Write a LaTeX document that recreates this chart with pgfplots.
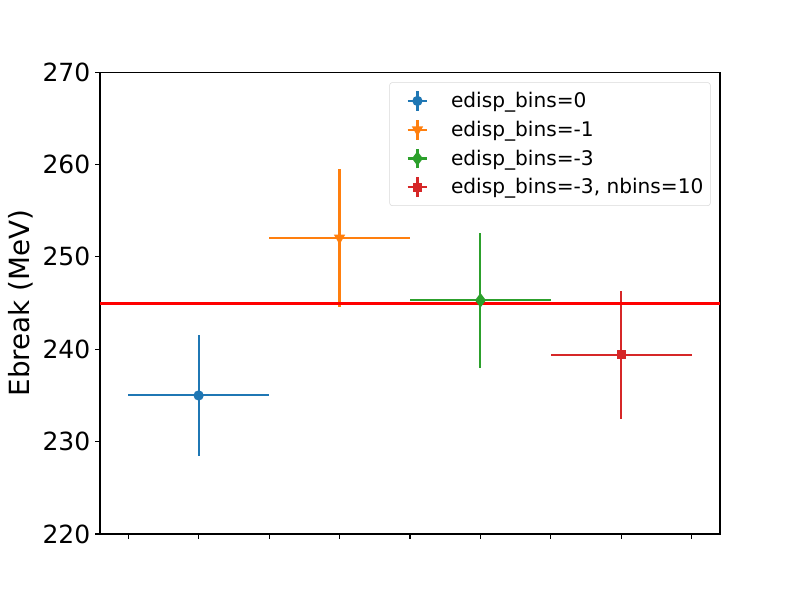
\documentclass[border=0pt]{standalone}
\usepackage{pgfplots}
\pgfplotsset{compat=1.18}
\usepackage{fontspec}
\setmainfont{DejaVu Sans}
\definecolor{tabblue}{HTML}{1F77B4}
\definecolor{taborange}{HTML}{FF7F0E}
\definecolor{tabgreen}{HTML}{2CA02C}
\definecolor{tabred}{HTML}{D62728}
\pgfplotsset{
  xyerr/.style={
    error bars/x dir=both, error bars/y dir=both,
    error bars/x explicit, error bars/y explicit,
    error bars/error mark=none,
    error bars/error bar style={#1, line width=1.5pt},
  },
}
\begin{document}
\begin{tikzpicture}
  % keep the 8x6 in page of the original figure
  \path[use as bounding box] (-72pt,-47.5pt) rectangle (504pt,384.5pt);
  \begin{axis}[
      at={(0pt,0pt)}, anchor=south west,
      scale only axis, width=446.4pt, height=332.6pt,
      xmin=-0.4, xmax=8.4, ymin=220, ymax=270,
      xtick={0,...,8}, xticklabels={},
      ytick={220,230,...,270},
      xtick pos=bottom, ytick pos=left,
      tick align=outside, major tick length=3.5pt,
      every tick/.style={black, line width=0.8pt},
      axis line style={line width=0.8pt},
      /pgf/number format/assume math mode=true,
      tick label style={font=\fontsize{18}{21}\selectfont},
      ylabel={Ebreak (MeV)},
      label style={font=\fontsize{20}{24}\selectfont},
      legend style={at={(0.985,0.978)}, anchor=north east, draw=black!15,
        rounded corners=2pt, font=\fontsize{14.5}{17}\selectfont,
        row sep=4.2pt, inner xsep=3pt, inner ysep=5pt},
      legend cell align=left,
      legend image code/.code={
        \path[draw=none] (-0.6cm,0cm) -- (0.78cm,0cm);
        \draw[line width=1.5pt] (-0.25cm,0cm) -- (0.25cm,0cm);
        \draw[line width=1.5pt] (0cm,-0.25cm) -- (0cm,0.25cm);
        \draw[line width=1.5pt, mark repeat=2, mark phase=2]
          plot coordinates {(-0.1cm,0cm) (0cm,0cm) (0.1cm,0cm)};
      },
    ]
    \addplot[tabblue, line width=1.5pt, only marks, mark=*, mark size=2.9pt, xyerr=tabblue]
      table[x=x, y=y, x error=xe, y error=ye] {
      x y xe ye
      1 235.0 1 6.5
    };
    \addlegendentry{edisp\_bins=0}
    \addplot[taborange, line width=1.5pt, only marks, mark=triangle*, mark size=3.2pt,
      mark options={rotate=180}, xyerr=taborange]
      table[x=x, y=y, x error=xe, y error=ye] {
      x y xe ye
      3 252.05 1 7.5
    };
    \addlegendentry{edisp\_bins=-1}
    \addplot[tabgreen, line width=1.5pt, only marks, mark=diamond*, mark size=4pt, xyerr=tabgreen]
      table[x=x, y=y, x error=xe, y error=ye] {
      x y xe ye
      5 245.3 1 7.3
    };
    \addlegendentry{edisp\_bins=-3}
    \addplot[tabred, line width=1.5pt, only marks, mark=square*, mark size=2.5pt, xyerr=tabred]
      table[x=x, y=y, x error=xe, y error=ye] {
      x y xe ye
      7 239.4 1 6.95
    };
    \addlegendentry{edisp\_bins=-3, nbins=10}
    \addplot[red, line width=2.1pt, forget plot] coordinates {(-0.4,245) (8.4,245)};
  \end{axis}
\end{tikzpicture}
\end{document}
